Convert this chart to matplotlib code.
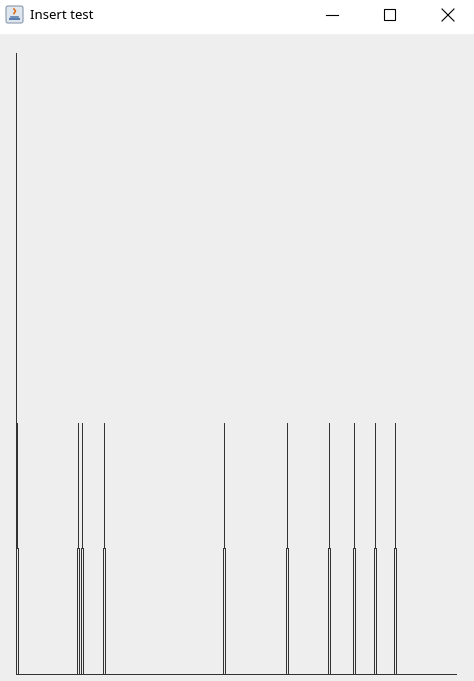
import matplotlib
matplotlib.use("Agg")
import matplotlib.pyplot as plt
from matplotlib.patches import Rectangle, FancyBboxPatch

# window: 474 x 681 px, the tree is drawn in pixel coords (y down)
W, H = 474, 681
title = "Insert test"

root_x = 16
root_top = 53
node_xs = [17, 78, 82, 104, 224, 287, 329, 354, 375, 395]
level_ys = [423, 548, 673]      # node top, split, base
base_x0, base_x1 = 16, 456

line_col = "#333333"
bg_col = "#eeeeee"

fig = plt.figure(figsize=(W / 100, H / 100), dpi=100)
ax = fig.add_axes([0, 0, 1, 1])
ax.set_xlim(0, W)
ax.set_ylim(H, 0)
ax.axis("off")

# background + title bar
ax.add_patch(Rectangle((0, 0), W, H, color=bg_col, zorder=0))
ax.add_patch(Rectangle((0, 0), W, 33, color="white", zorder=1))

# java icon
ax.add_patch(FancyBboxPatch((6, 6), 17, 17, boxstyle="round,pad=0,rounding_size=2",
                            fc="#dfe6ee", ec="#8a9aae", lw=0.8, zorder=2))
ax.plot([10, 19], [19, 19], color="#5a7fb0", lw=1.5, zorder=3)
ax.plot([11, 18], [16.5, 16.5], color="#5a7fb0", lw=1.2, zorder=3)
ax.plot([14, 15.5, 14], [9, 11, 13.5], color="#e07020", lw=1.2, zorder=3)

ax.text(30, 15.5, title, fontsize=9.5, family="Noto Sans", va="center", ha="left",
        color="black", zorder=3)

# window buttons
ax.plot([326, 338], [14.5, 14.5], color="black", lw=0.8, zorder=3)
ax.add_patch(Rectangle((384, 9), 11, 11, fill=False, ec="black", lw=0.8, zorder=3))
ax.plot([442, 454], [9, 21], color="black", lw=0.8, zorder=3)
ax.plot([442, 454], [21, 9], color="black", lw=0.8, zorder=3)

lw = 0.72
o = 0.5
# root
ax.plot([root_x + o, root_x + o], [root_top, level_ys[2]], color=line_col, lw=lw, zorder=4)
# nodes
for x in node_xs:
    ax.plot([x + o, x + o], [level_ys[0], level_ys[1]], color=line_col, lw=lw, zorder=4)
    for dx in (-1, 1):
        ax.plot([x + dx + o, x + dx + o], [level_ys[1], level_ys[2]], color=line_col,
                lw=lw, zorder=4)
# base line
ax.plot([base_x0, base_x1], [level_ys[2] + o, level_ys[2] + o], color=line_col, lw=lw, zorder=4)

fig.savefig("out.png", dpi=100)
